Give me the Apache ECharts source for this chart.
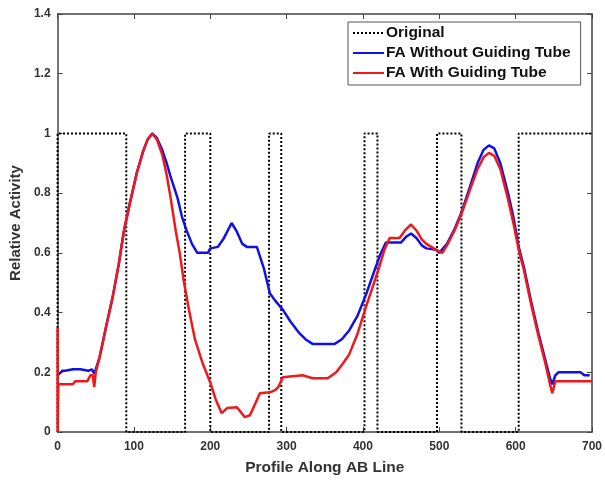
<!DOCTYPE html>
<html>
<head>
<meta charset="utf-8">
<script src="https://cdn.jsdelivr.net/npm/echarts@6/dist/echarts.min.js"></script>
<style>
	html, body { margin: 0; padding: 0; background: #fff; }
	#chart { width: 605px; height: 481px; }
</style>
</head>
<body>
<div id="chart"></div>
<script>
// x positions where the original profile switches level, it starts at 0 and goes up at x=0
var originalEdges = [0, 90, 167, 200, 277, 293, 402, 419, 497, 529, 604];
var originalEnd = 700;

var blueX = [0, 2, 6, 10, 20, 30, 40, 45, 48, 50, 55, 60, 65, 72, 80, 87, 95, 104, 112, 118, 124, 130, 137, 143,
	148, 157, 163, 169, 176, 183, 197, 200, 210, 218, 228, 235, 242, 248, 261, 270, 278, 285, 295, 305, 317, 325,
	334, 363, 372, 382, 393, 404, 415, 422, 430, 450, 457, 463, 470, 477, 483, 496, 500, 510, 520, 529, 540, 550,
	558, 565, 572, 580, 590, 597, 604, 611, 620, 630, 638, 645, 648, 652, 656, 685, 690, 697];
var blueY = [0.19, 0.195, 0.205, 0.205, 0.21, 0.21, 0.205, 0.21, 0.195, 0.2, 0.25, 0.31, 0.37, 0.45, 0.56, 0.675, 0.77, 0.87, 0.94, 0.98, 1.0, 0.985, 0.945, 0.9,
	0.855, 0.785, 0.72, 0.675, 0.63, 0.6, 0.6, 0.615, 0.62, 0.65, 0.7, 0.67, 0.63, 0.62, 0.62, 0.55, 0.465, 0.44, 0.41, 0.37, 0.33, 0.31,
	0.295, 0.295, 0.31, 0.34, 0.39, 0.46, 0.54, 0.59, 0.635, 0.635, 0.655, 0.665, 0.65, 0.625, 0.615, 0.61, 0.6, 0.63, 0.68, 0.735, 0.82, 0.9,
	0.945, 0.96, 0.95, 0.9, 0.8, 0.72, 0.62, 0.55, 0.44, 0.33, 0.25, 0.18, 0.16, 0.19, 0.2, 0.2, 0.19, 0.19];

var redX = [0, 0, 1, 20, 23, 39, 43, 46, 48, 50, 55, 60, 65, 72, 80, 87, 95, 104, 112, 118, 124, 130, 137, 143,
	148, 155, 160, 165, 172, 180, 190, 200, 207, 215, 222, 235, 245, 252, 258, 265, 278, 285, 289, 295, 321, 334,
	354, 365, 374, 382, 393, 404, 412, 421, 428, 435, 448, 455, 463, 470, 477, 483, 496, 504, 510, 520, 529, 540,
	550, 558, 565, 572, 580, 590, 597, 604, 611, 620, 630, 638, 645, 648, 652, 700];
var redY = [0.35, 0, 0.16, 0.16, 0.17, 0.17, 0.19, 0.19, 0.15, 0.2, 0.25, 0.31, 0.37, 0.45, 0.56, 0.675, 0.77, 0.87, 0.94, 0.98, 1.0, 0.98, 0.93, 0.86,
	0.785, 0.67, 0.6, 0.51, 0.41, 0.31, 0.23, 0.166, 0.11, 0.063, 0.08, 0.083, 0.05, 0.056, 0.09, 0.13, 0.133, 0.14, 0.15, 0.183, 0.19, 0.18,
	0.18, 0.2, 0.23, 0.26, 0.33, 0.42, 0.48, 0.55, 0.61, 0.65, 0.65, 0.675, 0.695, 0.675, 0.645, 0.63, 0.61, 0.6, 0.625, 0.675, 0.73, 0.81,
	0.88, 0.92, 0.935, 0.925, 0.88, 0.78, 0.7, 0.61, 0.54, 0.43, 0.32, 0.24, 0.16, 0.13, 0.17, 0.17];

var seriesNames = ['Original', 'FA Without Guiding Tube', 'FA With Guiding Tube'];

function stepPoints(edges, end) {
	var pts = [[edges[0], 0]];
	var level = 1;
	for (var i = 0; i < edges.length; i++) {
		pts.push([edges[i], level]);
		var next = i + 1 < edges.length ? edges[i + 1] : end;
		pts.push([next, level]);
		level = 1 - level;
		if (i + 1 < edges.length) pts.push([next, level]);
	}
	return pts;
}

function zip(xs, ys) {
	return xs.map(function(x, i) { return [x, ys[i]]; });
}

var chart = echarts.init(document.getElementById('chart'));
var axisCol = '#444';
var font = 'Liberation Sans, Arial, sans-serif';

chart.setOption({
	animation: false,
	textStyle: { fontFamily: font },
	grid: { left: 57, right: 12, top: 14, bottom: 44 },
	legend: {
		data: seriesNames,
		orient: 'vertical',
		left: 348,
		top: 22,
		itemWidth: 31,
		itemHeight: 14,
		itemGap: 4,
		padding: [3, 10, 4, 4],
		backgroundColor: '#fff',
		borderColor: '#555',
		borderWidth: 1,
		itemStyle: { opacity: 0 },
		textStyle: { fontFamily: font, fontWeight: 'bold', fontSize: 15.5, lineHeight: 15, color: '#111', padding: [0, 0, 0, -3] }
	},
	xAxis: [{
		type: 'value', min: 0, max: 700, interval: 100,
		name: 'Profile Along AB Line', nameLocation: 'middle', nameGap: 28,
		nameTextStyle: { fontFamily: font, fontWeight: 'bold', fontSize: 15.5, color: '#333' },
		axisLine: { onZero: false, lineStyle: { color: axisCol, width: 1.5 } },
		axisTick: { inside: true, length: 5, lineStyle: { color: axisCol } },
		axisLabel: { fontFamily: font, fontWeight: 'bold', fontSize: 12, color: '#333', margin: 9 },
		splitLine: { show: false }
	}, {
		type: 'value', min: 0, max: 700, interval: 100, position: 'top',
		axisLine: { onZero: false, lineStyle: { color: axisCol, width: 1.5 } },
		axisTick: { inside: true, length: 5, lineStyle: { color: axisCol } },
		axisLabel: { show: false },
		splitLine: { show: false }
	}],
	yAxis: [{
		type: 'value', min: 0, max: 1.4, interval: 0.2,
		name: 'Relative Activity', nameLocation: 'middle', nameGap: 23,
		nameTextStyle: { fontFamily: font, fontWeight: 'bold', fontSize: 15, color: '#333' },
		axisLine: { show: true, onZero: false, lineStyle: { color: axisCol, width: 1.5 } },
		axisTick: { show: true, inside: true, length: 5, lineStyle: { color: axisCol } },
		axisLabel: { fontFamily: font, fontWeight: 'bold', fontSize: 12, color: '#333', margin: 7 },
		splitLine: { show: false }
	}, {
		type: 'value', min: 0, max: 1.4, interval: 0.2, position: 'right',
		axisLine: { show: true, onZero: false, lineStyle: { color: axisCol, width: 1.5 } },
		axisTick: { show: true, inside: true, length: 5, lineStyle: { color: axisCol } },
		axisLabel: { show: false },
		splitLine: { show: false }
	}],
	series: [{
		name: seriesNames[0], type: 'line', symbol: 'none',
		data: stepPoints(originalEdges, originalEnd),
		lineStyle: { color: '#000', width: 2, type: [2, 2] },
		itemStyle: { color: '#000' }
	}, {
		name: seriesNames[1], type: 'line', symbol: 'none',
		data: zip(blueX, blueY),
		lineStyle: { color: '#1010e8', width: 2.5 },
		itemStyle: { color: '#1010e8' }
	}, {
		name: seriesNames[2], type: 'line', symbol: 'none',
		data: zip(redX, redY),
		lineStyle: { color: '#f01818', width: 2.5 },
		itemStyle: { color: '#f01818' }
	}]
});
</script>
</body>
</html>
